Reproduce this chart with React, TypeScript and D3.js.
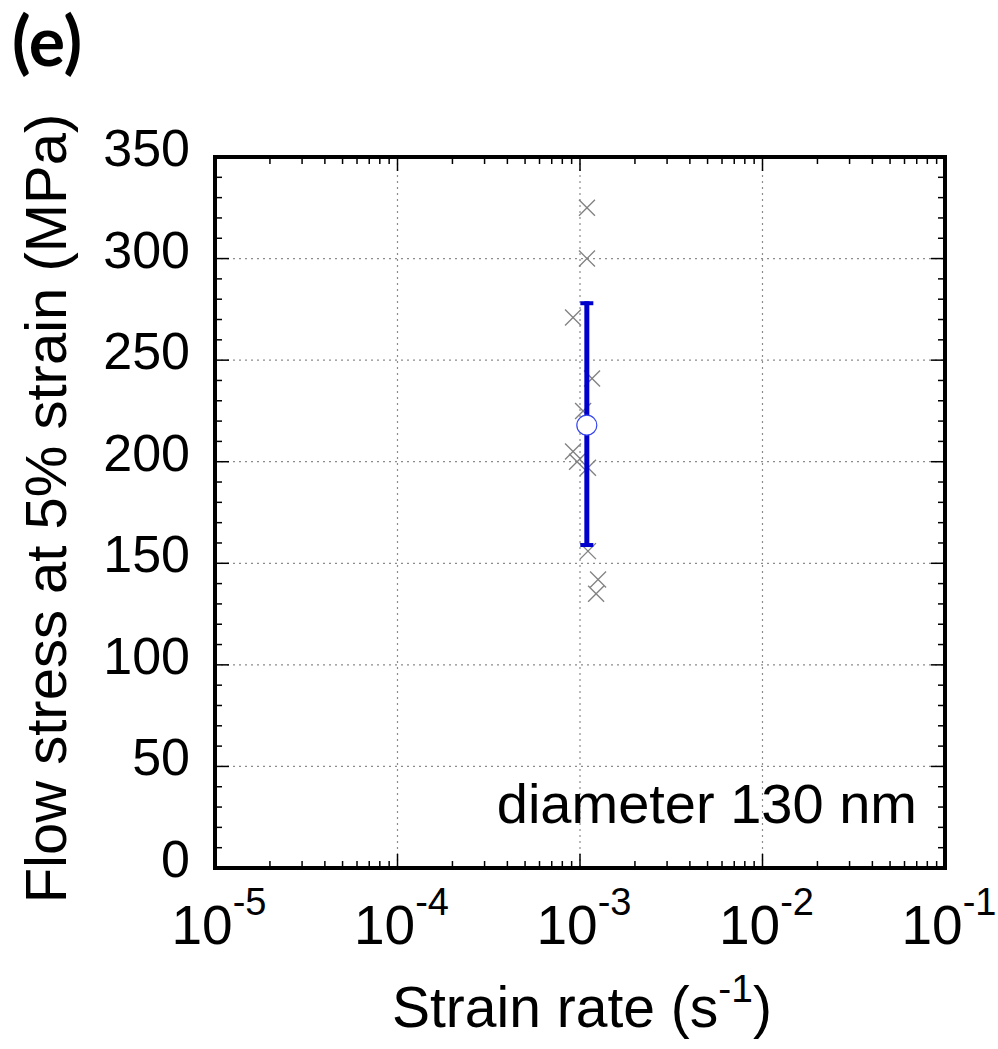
import React from "react";
import * as d3 from "d3";

const xTicks = [1e-5, 1e-4, 1e-3, 1e-2, 1e-1];
const xTickExp = ["-5", "-4", "-3", "-2", "-1"];
const yTicks = [0, 50, 100, 150, 200, 250, 300, 350];

const pointRate = [1.092e-3, 1.092e-3, 0.916e-3, 1.164e-3, 1.04e-3, 0.916e-3, 0.964e-3, 1.106e-3, 1.106e-3, 1.256e-3, 1.225e-3];
const pointStress = [325, 300, 271, 241, 225, 205, 200, 197, 156, 142, 135];

const meanRate = [1.09e-3];
const meanStress = [218];
const errLow = [158];
const errHigh = [279];

const W = 998, H = 1049;
const L = 215, R = 945, T = 157, B = 868;

export default function App() {
  const x = d3.scaleLog().domain([1e-5, 1e-1]).range([L, R]);
  const y = d3.scaleLinear().domain([0, 350]).range([B, T]);

  const minorX: number[] = [];
  for (let e = -5; e < -1; e++) {
    for (let k = 2; k <= 9; k++) minorX.push(k * Math.pow(10, e));
  }
  const minorY = d3.range(0, 351, 10).filter((v) => v % 50 !== 0);

  const grid = "#8c8c8c";
  const font = "'Liberation Sans', Arial, sans-serif";
  const ms = 8;

  return (
    <svg width={W} height={H} style={{ position: "absolute", left: 0, top: 0, background: "#fff" }}>
      <rect x={0} y={0} width={W} height={H} fill="#fff" />
      <text x={12} y={66} fontFamily="Lato, 'Open Sans', sans-serif" fontWeight="bold" fontSize={68}>(e)</text>

      {/* grid */}
      {xTicks.slice(1, -1).map((t, i) => (
        <line key={"gx" + i} x1={x(t)} x2={x(t)} y1={T} y2={B} stroke={grid} strokeWidth={1.2} strokeDasharray="2,4" />
      ))}
      {yTicks.slice(1, -1).map((t, i) => (
        <line key={"gy" + i} x1={L} x2={R} y1={y(t)} y2={y(t)} stroke={grid} strokeWidth={1.2} strokeDasharray="2,4" />
      ))}

      {/* minor ticks */}
      {minorX.map((t, i) => (
        <g key={"mx" + i}>
          <line x1={x(t)} x2={x(t)} y1={B} y2={B - 7} stroke="#000" strokeWidth={1.5} />
          <line x1={x(t)} x2={x(t)} y1={T} y2={T + 7} stroke="#000" strokeWidth={1.5} />
        </g>
      ))}
      {minorY.map((t, i) => (
        <g key={"my" + i}>
          <line x1={L} x2={L + 7} y1={y(t)} y2={y(t)} stroke="#000" strokeWidth={1.5} />
          <line x1={R} x2={R - 7} y1={y(t)} y2={y(t)} stroke="#000" strokeWidth={1.5} />
        </g>
      ))}
      {xTicks.map((t, i) => (
        <g key={"Mx" + i}>
          <line x1={x(t)} x2={x(t)} y1={B} y2={B - 14} stroke="#000" strokeWidth={1.5} />
          <line x1={x(t)} x2={x(t)} y1={T} y2={T + 14} stroke="#000" strokeWidth={1.5} />
        </g>
      ))}
      {yTicks.map((t, i) => (
        <g key={"My" + i}>
          <line x1={L} x2={L + 14} y1={y(t)} y2={y(t)} stroke="#000" strokeWidth={1.5} />
          <line x1={R} x2={R - 14} y1={y(t)} y2={y(t)} stroke="#000" strokeWidth={1.5} />
        </g>
      ))}

      {/* data points */}
      {pointRate.map((r, i) => {
        const cx = x(r), cy = y(pointStress[i]);
        return (
          <g key={"p" + i} stroke="#808080" strokeWidth={1.3}>
            <line x1={cx - ms} x2={cx + ms} y1={cy - ms} y2={cy + ms} />
            <line x1={cx - ms} x2={cx + ms} y1={cy + ms} y2={cy - ms} />
          </g>
        );
      })}

      {/* error bar + mean */}
      {meanRate.map((r, i) => {
        const cx = x(r);
        return (
          <g key={"m" + i}>
            <line x1={cx} x2={cx} y1={y(errHigh[i])} y2={y(errLow[i])} stroke="#0000cc" strokeWidth={5} />
            <line x1={cx - 6.5} x2={cx + 6.5} y1={y(errHigh[i]) + 2} y2={y(errHigh[i]) + 2} stroke="#0000cc" strokeWidth={4} />
            <line x1={cx - 6.5} x2={cx + 6.5} y1={y(errLow[i]) - 2} y2={y(errLow[i]) - 2} stroke="#0000cc" strokeWidth={4} />
            <circle cx={cx} cy={y(meanStress[i])} r={10} fill="#fff" stroke="#3344ee" strokeWidth={1.2} />
          </g>
        );
      })}

      {/* frame */}
      <rect x={L} y={T} width={R - L} height={B - T} fill="none" stroke="#000" strokeWidth={4} />

      {/* y tick labels */}
      {yTicks.map((t, i) => (
        <text key={"yl" + i} x={190} y={y(t) + 9} textAnchor="end" fontFamily={font} fontSize={52}>{t}</text>
      ))}
      {/* x tick labels */}
      {xTicks.map((t, i) => (
        <text key={"xl" + i} x={x(t) + 4} y={944} textAnchor="middle" fontFamily={font} fontSize={55}>
          10<tspan dy={-29} fontSize={38}>{xTickExp[i]}</tspan>
        </text>
      ))}

      <text x={917} y={823} textAnchor="end" fontFamily={font} fontSize={56}>diameter 130 nm</text>

      <text x={582} y={1027} textAnchor="middle" fontFamily={font} fontSize={57}>
        Strain rate (s<tspan dy={-25} fontSize={39}>-1</tspan><tspan dy={25}>)</tspan>
      </text>

      <text transform={`translate(66, ${(T + B) / 2 - 4}) rotate(-90)`} textAnchor="middle" fontFamily={font} fontSize={58}>
        Flow stress at 5% strain (MPa)
      </text>
    </svg>
  );
}
